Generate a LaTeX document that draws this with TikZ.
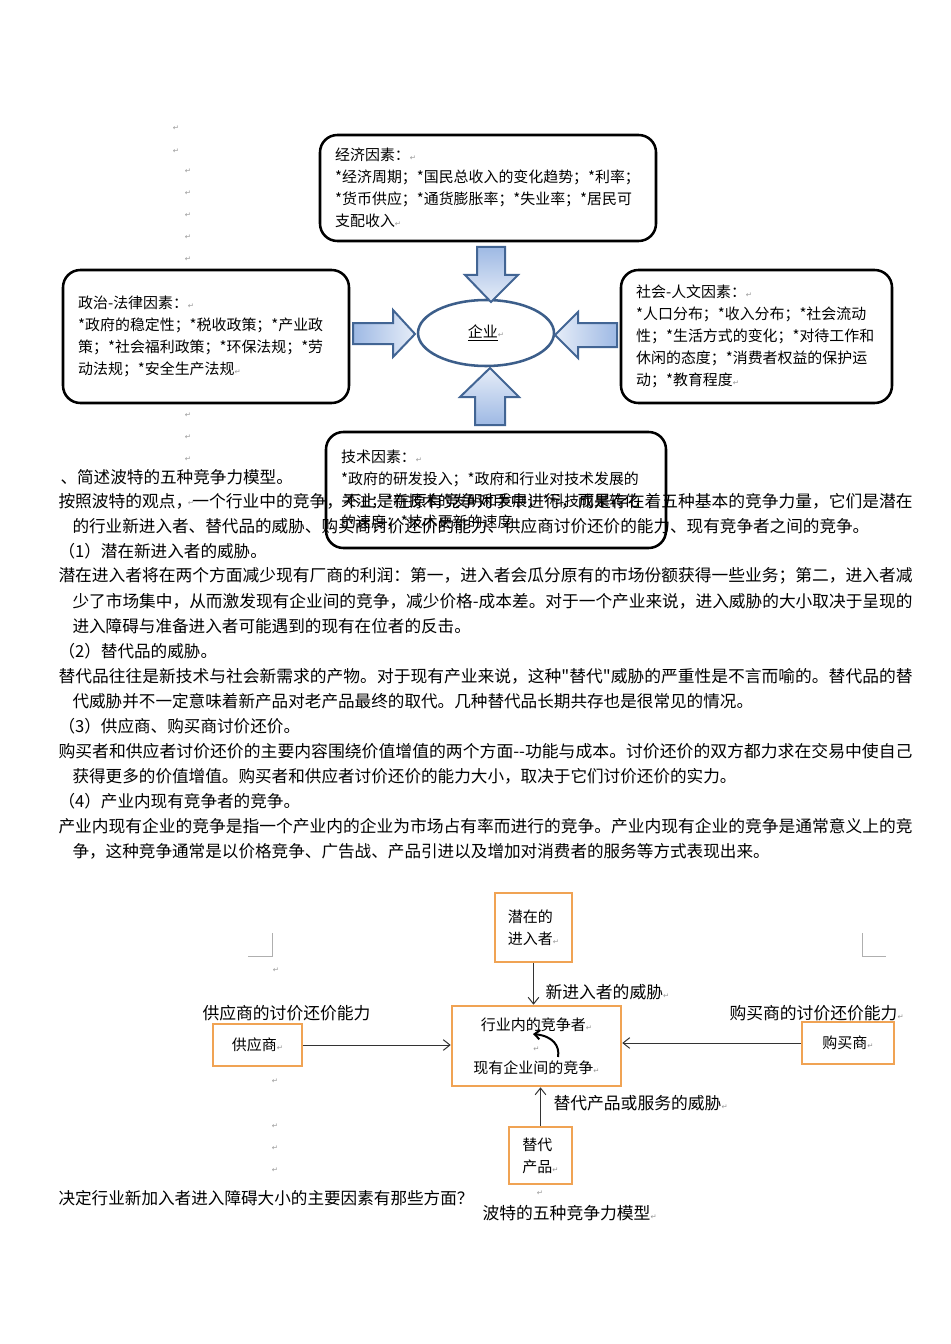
\documentclass[tikz,border=0pt]{standalone}
\usepackage{fontspec}
\usepackage{graphicx}
\setmainfont{Noto Sans CJK SC}[Ligatures=TeXOff]
\newfontfamily\symfont{DejaVu Sans}
\usetikzlibrary{shapes.geometric,arrows.meta}
\definecolor{retgray}{RGB}{150,150,150}
\definecolor{arrowdark}{RGB}{158,185,228}
\definecolor{arrowlight}{RGB}{230,237,248}
\definecolor{arrowedge}{RGB}{66,101,148}
\definecolor{hubedge}{RGB}{60,94,138}
\definecolor{forceedge}{RGB}{240,163,84}
\definecolor{cropgray}{RGB}{175,175,175}
\newcommand{\retmark}{{\symfont\fontsize{5.5}{6}\selectfont\color{retgray}↵}}
\newcommand{\fullline}[1]{\resizebox{640.5pt}{\height}{#1}}
\newcommand{\indentline}[1]{\resizebox{630pt}{\height}{#1}}

\tikzset{every picture/.style={line width=0.75pt}}
\tikzset{
  factorbox/.style={draw=black, line width=1.9pt, rounded corners=13pt, inner sep=0pt},
  factortext/.style={anchor=west, align=left, inner sep=0pt, font=\fontsize{11.2}{16.4}\selectfont},
  blockarrow/.style={draw=arrowedge, line width=1.5pt, line join=miter},
  hub/.style={ellipse, draw=hubedge, line width=1.9pt, inner sep=0pt, font=\fontsize{11.25}{13}\selectfont},
  forcebox/.style={draw=forceedge, line width=1.9pt, inner sep=0pt, align=left, font=\fontsize{11.25}{16.5}\selectfont},
  forcearrow/.style={draw=black!80, line width=0.75pt, -{Straight Barb[length=5pt,width=8pt]}},
  swirl/.style={draw=black, line width=1.5pt, -{Straight Barb[length=4pt,width=7pt]}},
  forcelabel/.style={anchor=west, inner sep=0pt, font=\fontsize{12.6}{15}\selectfont},
  bodytext/.style={anchor=west, inner sep=0pt, font=\fontsize{12.45}{15}\selectfont},
  retnode/.style={inner sep=0pt},
  cropline/.style={draw=cropgray, line width=0.75pt},
}

\begin{document}
\begin{tikzpicture}[x=0.75pt,y=0.75pt,yscale=-1,xscale=1]
	\useasboundingbox [fill=white] (0,0) rectangle (950,1344);

	%Shape: Rounded Rect [economic factors]
	\node[factorbox, minimum width=252pt, minimum height=79.5pt] (econ) at (488,188) {};
	\node[factortext] (econtxt) at ([xshift=12pt]econ.west) {经济因素：\retmark\\{}*经济周期；*国民总收入的变化趋势；*利率；\\{}*货币供应；*通货膨胀率；*失业率；*居民可\\支配收入\retmark};
	%Shape: Rounded Rect [political factors]
	\node[factorbox, minimum width=214.5pt, minimum height=99.75pt] (polit) at (206,336.5) {};
	\node[factortext] (polittxt) at ([xshift=12pt]polit.west) {政治-法律因素：\retmark\\{}*政府的稳定性；*税收政策；*产业政\\策；*社会福利政策；*环保法规；*劳\\动法规；*安全生产法规\retmark};
	%Shape: Rounded Rect [social factors]
	\node[factorbox, minimum width=203.25pt, minimum height=99.75pt] (social) at (756.5,336.5) {};
	\node[factortext] (socialtxt) at ([xshift=12pt]social.west) {社会-人文因素：\retmark\\{}*人口分布；*收入分布；*社会流动\\性；*生活方式的变化；*对待工作和\\休闲的态度；*消费者权益的保护运\\动；*教育程度\retmark};
	%Shape: Rounded Rect [technology factors]
	\node[factorbox, minimum width=255pt, minimum height=87pt] (tech) at (496,490) {};
	\node[factortext] (techtxt) at ([xshift=12pt]tech.west) {技术因素：\retmark\\{}*政府的研发投入；*政府和行业对技术发展的\\关注；*新技术的发明和发展；*科技成果转化\\的速度；*技术更新的速度};

	%Shape: Ellipse [enterprise]
	\node[hub, minimum width=102pt, minimum height=49.5pt] (firm) at (486,333) {\underline{企业}\retmark};

	%Shape: Down Arrow
	\path[blockarrow, top color=arrowdark, bottom color=arrowlight] (477,247) -- (505,247) -- (505,275) -- (518,275) -- (491,302) -- (465,275) -- (477,275) -- cycle ;
	%Shape: Right Arrow
	\path[blockarrow, left color=arrowdark, right color=arrowlight] (353,323) -- (393,323) -- (393,310) -- (415,334) -- (393,357) -- (393,344) -- (353,344) -- cycle ;
	%Shape: Left Arrow
	\path[blockarrow, left color=arrowlight, right color=arrowdark] (617,323) -- (578,323) -- (578,312) -- (555,335) -- (578,358) -- (578,347) -- (617,347) -- cycle ;
	%Shape: Up Arrow
	\path[blockarrow, top color=arrowlight, bottom color=arrowdark] (475,425) -- (475,397) -- (460,397) -- (490,368) -- (519,397) -- (505,397) -- (505,425) -- cycle ;

	% Text Node
	\node[bodytext] (q4) at (60,477) {、简述波特的五种竞争力模型。};
	% Text Node
	\node[bodytext] (p1a) at (58,501) {\fullline{按照波特的观点，一个行业中的竞争，不止是在原有竞争对手中进行，而是存在着五种基本的竞争力量，它们是潜在}};
	% Text Node
	\node[bodytext] (p1b) at (72,526) {的行业新进入者、替代品的威胁、购买商讨价还价的能力、供应商讨价还价的能力、现有竞争者之间的竞争。};
	% Text Node
	\node[bodytext] (h1) at (58,551) {（1）潜在新进入者的威胁。};
	% Text Node
	\node[bodytext] (p2a) at (58,576) {\fullline{潜在进入者将在两个方面减少现有厂商的利润：第一，进入者会瓜分原有的市场份额获得一些业务；第二，进入者减}};
	% Text Node
	\node[bodytext] (p2b) at (72,601) {\indentline{少了市场集中，从而激发现有企业间的竞争，减少价格-成本差。对于一个产业来说，进入威胁的大小取决于呈现的}};
	% Text Node
	\node[bodytext] (p2c) at (72,626) {进入障碍与准备进入者可能遇到的现有在位者的反击。};
	% Text Node
	\node[bodytext] (h2) at (58,651) {（2）替代品的威胁。};
	% Text Node
	\node[bodytext] (p3a) at (58,676) {\fullline{替代品往往是新技术与社会新需求的产物。对于现有产业来说，这种"替代"威胁的严重性是不言而喻的。替代品的替}};
	% Text Node
	\node[bodytext] (p3b) at (72,701) {代威胁并不一定意味着新产品对老产品最终的取代。几种替代品长期共存也是很常见的情况。};
	% Text Node
	\node[bodytext] (h3) at (58,726) {（3）供应商、购买商讨价还价。};
	% Text Node
	\node[bodytext] (p4a) at (58,751) {\fullline{购买者和供应者讨价还价的主要内容围绕价值增值的两个方面--功能与成本。讨价还价的双方都力求在交易中使自己}};
	% Text Node
	\node[bodytext] (p4b) at (72,776) {获得更多的价值增值。购买者和供应者讨价还价的能力大小，取决于它们讨价还价的实力。};
	% Text Node
	\node[bodytext] (h4) at (58,801) {（4）产业内现有竞争者的竞争。};
	% Text Node
	\node[bodytext] (p5a) at (58,826) {\fullline{产业内现有企业的竞争是指一个产业内的企业为市场占有率而进行的竞争。产业内现有企业的竞争是通常意义上的竞}};
	% Text Node
	\node[bodytext] (p5b) at (72,851) {争，这种竞争通常是以价格竞争、广告战、产品引进以及增加对消费者的服务等方式表现出来。};
	% Text Node
	\node[bodytext] (q5) at (58,1198) {决定行业新加入者进入障碍大小的主要因素有那些方面？};

	%Shape: Rectangle [five forces]
	\node[forcebox, minimum width=57.75pt, minimum height=51.75pt] (entrant) at (533.5,927.5) {潜在的\\进入者\retmark};
	\node[forcebox, align=center, minimum width=126.75pt, minimum height=60pt, font=\fontsize{11.25}{16.1}\selectfont] (rivals) at (536.5,1046) {行业内的竞争者\retmark\\\retmark\\现有企业间的竞争\retmark};
	\node[forcebox, minimum width=66.75pt, minimum height=31.5pt] (supplier) at (257.5,1045) {供应商\retmark};
	\node[forcebox, minimum width=69pt, minimum height=31.5pt] (buyer) at (848,1043) {购买商\retmark};
	\node[forcebox, minimum width=47.25pt, minimum height=42.75pt] (subst) at (540.5,1155.5) {替代\\产品\retmark};

	%Straight Lines [five forces]
	\draw[forcearrow] (entrant.south) -- (entrant.south |- rivals.north);
	\draw[forcearrow] (supplier.east) -- (supplier.east -| rivals.west);
	\draw[forcearrow] (buyer.west) -- (buyer.west -| rivals.east);
	\draw[forcearrow] (subst.north) -- (subst.north |- rivals.south);
	%Curve Lines [rivalry]
	\coordinate (swirlstart) at (558,1057);
	\coordinate (swirlend) at (533,1034);
	\draw[swirl] (swirlstart) .. controls (560,1046) and (553,1036) .. (swirlend);

	% Text Node
	\node[forcelabel] (lblentrant) at (545,992) {新进入者的威胁\retmark};
	% Text Node
	\node[forcelabel] (lblsupplier) at (202,1013) {供应商的讨价还价能力};
	% Text Node
	\node[forcelabel] (lblbuyer) at (729,1013) {购买商的讨价还价能力\retmark};
	% Text Node
	\node[forcelabel] (lblsubst) at (553,1103) {替代产品或服务的威胁\retmark};
	% Text Node
	\node[forcelabel] (title) at (482,1213) {波特的五种竞争力模型\retmark};

	%Straight Lines [crop marks]
	\draw[cropline] (272,933) -- (272,956) -- (248,956);
	\draw[cropline] (862,933) -- (862,956) -- (886,956);

	% Paragraph marks
	\node[retnode] (m1) at (176,128) {\retmark};
	\node[retnode] (m2) at (176,151) {\retmark};
	\node[retnode] (m3) at (188,171) {\retmark};
	\node[retnode] (m4) at (188,193) {\retmark};
	\node[retnode] (m5) at (188,215) {\retmark};
	\node[retnode] (m6) at (188,237) {\retmark};
	\node[retnode] (m7) at (188,259) {\retmark};
	\node[retnode] (m8) at (188,415) {\retmark};
	\node[retnode] (m9) at (188,437) {\retmark};
	\node[retnode] (m10) at (188,459) {\retmark};
	\node[retnode] (m11) at (191,503) {\retmark};
	\node[retnode] (m12) at (276,970) {\retmark};
	\node[retnode] (m13) at (275,1081) {\retmark};
	\node[retnode] (m14) at (275,1126) {\retmark};
	\node[retnode] (m15) at (275,1148) {\retmark};
	\node[retnode] (m16) at (275,1170) {\retmark};
	\node[retnode] (m17) at (540,1193) {\retmark};

\end{tikzpicture}
\end{document}
